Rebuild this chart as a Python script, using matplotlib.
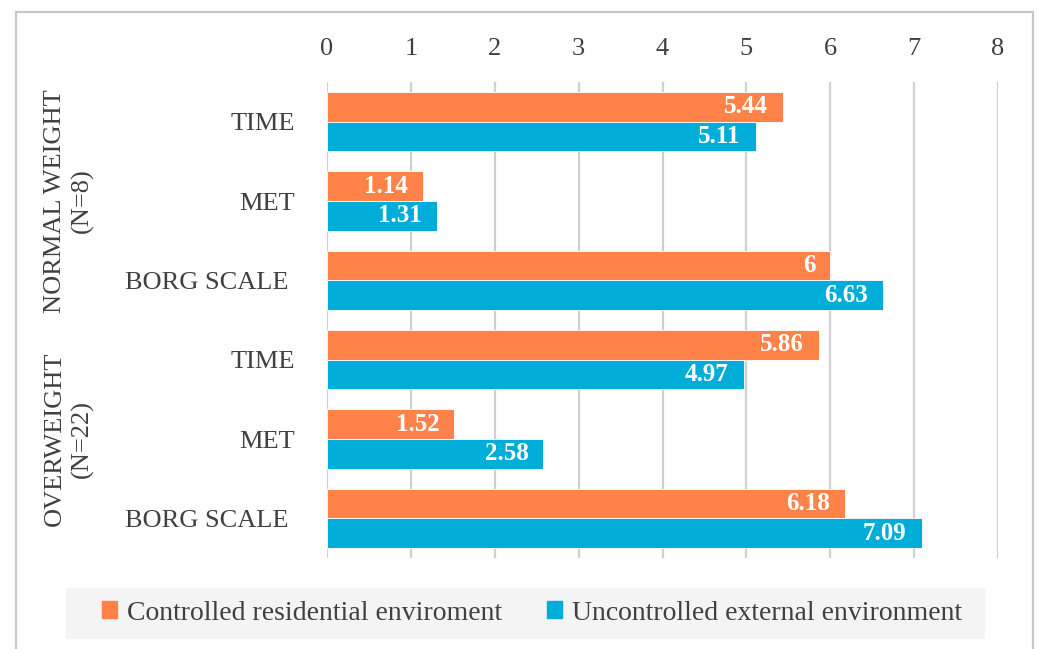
import matplotlib
matplotlib.use("Agg")
import matplotlib.pyplot as plt
from matplotlib.patches import Rectangle
import numpy as np

# Measures, listed top to bottom
measures = ["TIME", "MET", "BORG SCALE ", "TIME", "MET", "BORG SCALE "]
groups = ["NORMAL WEIGHT\n(N=8)", "OVERWEIGHT\n(N=22)"]
controlled = [5.44, 1.14, 6.00, 5.86, 1.52, 6.18]
uncontrolled = [5.11, 1.31, 6.63, 4.97, 2.58, 7.09]
value_text_controlled = ["5.44", "1.14", "6", "5.86", "1.52", "6.18"]
value_text_uncontrolled = ["5.11", "1.31", "6.63", "4.97", "2.58", "7.09"]
series_names = ["Controlled residential enviroment", "Uncontrolled external environment"]
x_ticks = [0, 1, 2, 3, 4, 5, 6, 7, 8]

ORANGE = "#FF8349"
BLUE = "#00ADD8"
TEXT = "#404040"
GRID = "#D0D0D0"
FS = 19

plt.rcParams["font.family"] = ["Liberation Serif", "DejaVu Serif"]

W, H = 1037, 649
fig = plt.figure(figsize=(W / 100, H / 100), dpi=100)

left, right, top, bottom = 327, 998, 82, 558
ax = fig.add_axes([left / W, 1 - bottom / H, (right - left) / W, (bottom - top) / H])

y = np.arange(len(measures))
h = 0.37
off = 0.187
ax.barh(y - off, controlled, height=h, color=ORANGE, edgecolor="white", linewidth=0.6, zorder=3)
ax.barh(y + off, uncontrolled, height=h, color=BLUE, edgecolor="white", linewidth=0.6, zorder=3)

for yi, v, t in zip(y - off, controlled, value_text_controlled):
    ax.annotate(t, (v, yi), xytext=(-15, 0), textcoords="offset pixels",
                ha="right", va="center", color="white", fontsize=18, fontweight="bold", zorder=4)
for yi, v, t in zip(y + off, uncontrolled, value_text_uncontrolled):
    ax.annotate(t, (v, yi), xytext=(-15, 0), textcoords="offset pixels",
                ha="right", va="center", color="white", fontsize=18, fontweight="bold", zorder=4)

ax.set_xlim(0, 8)
ax.set_ylim(len(measures) - 0.5, -0.5)
ax.set_xticks(x_ticks)
ax.xaxis.tick_top()
ax.tick_params(axis="x", length=0, pad=16, labelsize=FS, labelcolor=TEXT)
ax.set_yticks(y)
ax.set_yticklabels(measures)
ax.tick_params(axis="y", length=0, pad=23, labelsize=FS, labelcolor=TEXT)
ax.grid(axis="x", color=GRID, linewidth=1.6, zorder=0)
for s in ax.spines.values():
    s.set_visible(False)

# Group labels, centred on the middle measure of each group
for gi, g in enumerate(groups):
    yc = 1 + 3 * gi
    ax.annotate(g, xy=(0, yc), xycoords=("figure fraction", "data"),
                xytext=(69, 0), textcoords="offset pixels",
                rotation=90, ha="center", va="center", fontsize=FS,
                color=TEXT, linespacing=1.3, annotation_clip=False)

# Outer frame
fig.add_artist(Rectangle((16 / W, -0.05), (1033 - 16) / W, 1.05 - 12 / H,
                         transform=fig.transFigure, fill=False,
                         edgecolor="#C8C8C8", linewidth=1.6))

# Legend panel
fig.add_artist(Rectangle((66 / W, 1 - 639 / H), (985 - 66) / W, (639 - 588) / H,
                         transform=fig.transFigure, facecolor="#F4F4F4",
                         edgecolor="none"))
handles = [Rectangle((0, 0), 1, 1, color=ORANGE), Rectangle((0, 0), 1, 1, color=BLUE)]
fig.legend(handles, series_names, loc="center", bbox_to_anchor=(532 / W, 1 - 613 / H),
           ncol=2, frameon=False, fontsize=20, handlelength=0.55, handleheight=0.55,
           handletextpad=0.35, columnspacing=1.6, labelcolor=TEXT)

fig.savefig("out.png", dpi=100, facecolor="white")
